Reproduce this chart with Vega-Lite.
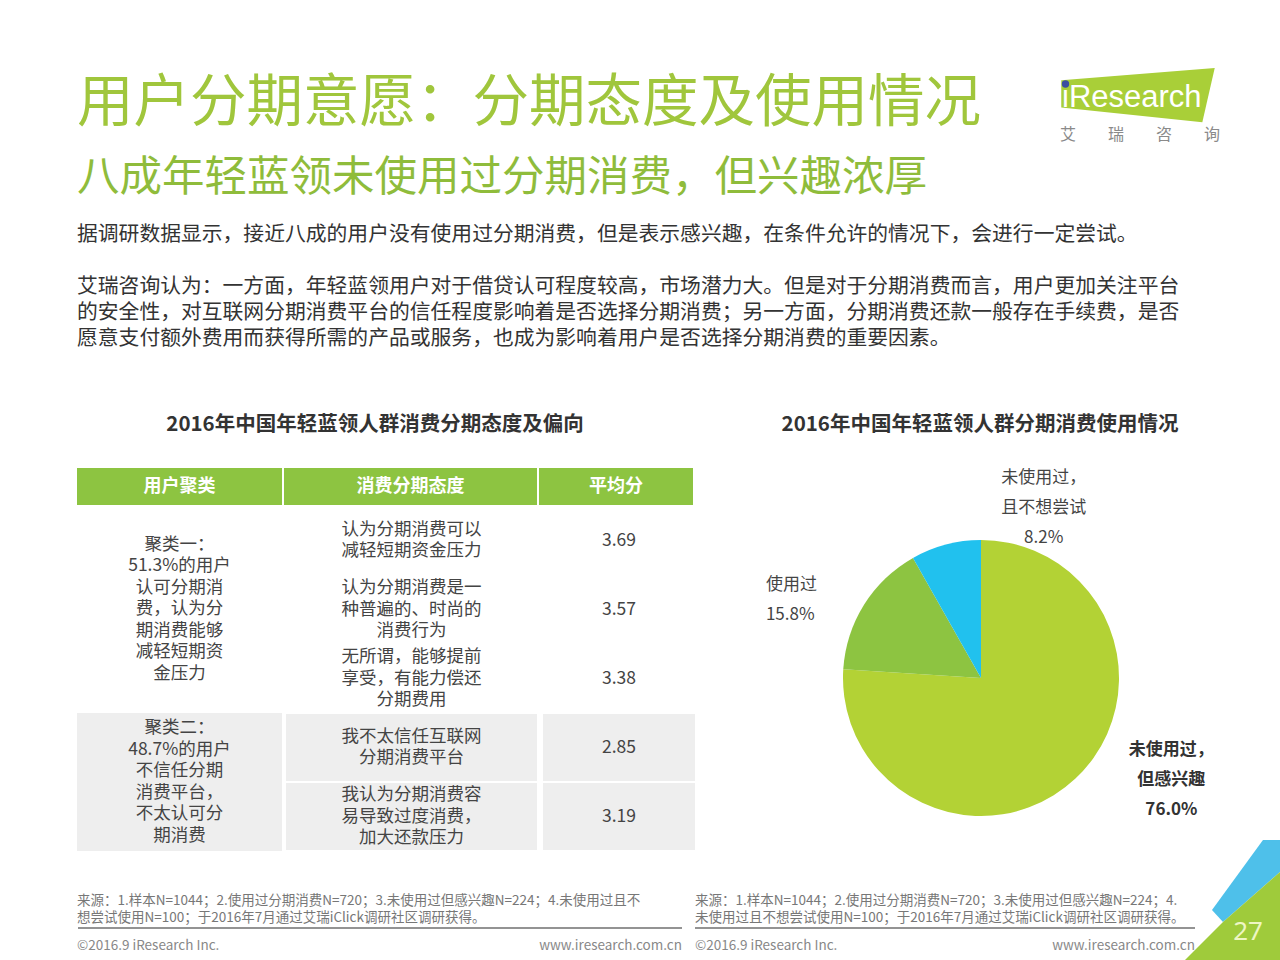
{
  "$schema": "https://vega.github.io/schema/vega-lite/v6.json",
  "background": "white",
  "padding": {"left": 77, "top": 0, "right": 0, "bottom": 0},
  "config": {"font": "Noto Sans CJK SC", "view": {"stroke": null}},
  "datasets": {
    "header": [
      {"kind": "title", "line": 0, "text": "用户分期意愿：分期态度及使用情况"},
      {"kind": "subtitle", "line": 3, "text": "八成年轻蓝领未使用过分期消费，但兴趣浓厚"},
      {"kind": "body", "line": 5, "text": "据调研数据显示，接近八成的用户没有使用过分期消费，但是表示感兴趣，在条件允许的情况下，会进行一定尝试。"},
      {"kind": "body", "line": 7, "text": "艾瑞咨询认为：一方面，年轻蓝领用户对于借贷认可程度较高，市场潜力大。但是对于分期消费而言，用户更加关注平台"},
      {"kind": "body", "line": 8, "text": "的安全性，对互联网分期消费平台的信任程度影响着是否选择分期消费；另一方面，分期消费还款一般存在手续费，是否"},
      {"kind": "body", "line": 9, "text": "愿意支付额外费用而获得所需的产品或服务，也成为影响着用户是否选择分期消费的重要因素。"},
      {"kind": "tabletitle", "line": 12, "text": "2016年中国年轻蓝领人群消费分期态度及偏向"},
      {"kind": "pietitle", "line": 12, "text": "2016年中国年轻蓝领人群分期消费使用情况"}
    ],
    "cols": [{"col": "用户聚类"}, {"col": "消费分期态度"}, {"col": "平均分"}],
    "table": [
      {"row": 1, "cluster": "聚类一", "attitude": "认为分期消费可以\n减轻短期资金压力", "score": 3.69},
      {"row": 2, "cluster": "聚类一", "attitude": "认为分期消费是一\n种普遍的、时尚的\n消费行为", "score": 3.57},
      {"row": 3, "cluster": "聚类一", "attitude": "无所谓，能够提前\n享受，有能力偿还\n分期费用", "score": 3.38},
      {"row": 4, "cluster": "聚类二", "attitude": "我不太信任互联网\n分期消费平台", "score": 2.85},
      {"row": 5, "cluster": "聚类二", "attitude": "我认为分期消费容\n易导致过度消费，\n加大还款压力", "score": 3.19}
    ],
    "clusters": [
      {"cluster": "聚类一", "desc": "聚类一：\n51.3%的用户\n认可分期消\n费，认为分\n期消费能够\n减轻短期资\n金压力"},
      {"cluster": "聚类二", "desc": "聚类二：\n48.7%的用户\n不信任分期\n消费平台，\n不太认可分\n期消费"}
    ],
    "pie": [
      {"cat": "未使用过，但感兴趣", "pct": 76.0, "label": "未使用过，\n但感兴趣\n76.0%"},
      {"cat": "使用过", "pct": 15.8, "label": "使用过\n15.8%"},
      {"cat": "未使用过，且不想尝试", "pct": 8.2, "label": "未使用过，\n且不想尝试\n8.2%"}
    ],
    "foot": [{"c": "©2016.9 iResearch Inc.", "u": "www.iresearch.com.cn"}]
  },
  "spacing": 0,
  "bounds": "flush",
  "resolve": {"scale": {"color": "independent"}},
  "vconcat": [
    {
      "width": 1203,
      "height": 468,
      "layer": [
        {"data": {"values": [{"part": "logo"}]}, "mark": {"type": "point", "shape": "M-0.99,-0.19L0.99,-0.35L0.83,0.35L-0.99,0.16Z", "filled": true, "opacity": 1, "color": "#a9cf38", "size": 24025, "strokeWidth": 0}, "encoding": {"x": {"value": 1061}, "y": {"value": 95}}},
        {"data": {"values": [{"t": "iResearch"}]}, "mark": {"type": "text", "align": "left", "baseline": "alphabetic", "font": "Liberation Sans", "fontSize": 31, "color": "white"}, "encoding": {"x": {"value": 985}, "y": {"value": 107}, "text": {"field": "t"}}},
        {"data": {"values": [{"part": "dot"}]}, "mark": {"type": "point", "shape": "circle", "filled": true, "opacity": 1, "color": "#3b4fa0", "size": 55, "strokeWidth": 0}, "encoding": {"x": {"value": 988.5}, "y": {"value": 84}}},
        {"data": {"values": [{"t": "艾　　瑞　　咨　　询"}]}, "mark": {"type": "text", "align": "left", "baseline": "middle", "fontSize": 16, "color": "#8a8a8a"}, "encoding": {"x": {"value": 983}, "y": {"value": 135}, "text": {"field": "t"}}},
        {"data": {"values": [{"part": "sep-left"}]}, "mark": {"type": "rule", "color": "#6f6f6f", "strokeWidth": 1.5, "opacity": 1}, "encoding": {"x": {"value": 1}, "x2": {"value": 605}, "y": {"value": 928}, "y2": {"value": 928}}},
        {"data": {"values": [{"part": "sep-right"}]}, "mark": {"type": "rule", "color": "#6f6f6f", "strokeWidth": 1.5, "opacity": 1}, "encoding": {"x": {"value": 618}, "x2": {"value": 1118}, "y": {"value": 928}, "y2": {"value": 928}}},
        {"data": {"values": [{"part": "corner-blue"}]}, "mark": {"type": "point", "shape": "M-0.467,0.167L0.383,-1L0.667,-1L0.667,-0.467L-0.283,0.367Z", "filled": true, "opacity": 1, "color": "#4ec0ea", "size": 14400, "strokeWidth": 0}, "encoding": {"x": {"value": 1163}, "y": {"value": 900}}},
        {"data": {"values": [{"part": "corner-green"}]}, "mark": {"type": "point", "shape": "M-0.283,0.367L0.667,-0.467L0.667,1L-0.917,1Z", "filled": true, "opacity": 1, "color": "#9fcb3b", "size": 14400, "strokeWidth": 0}, "encoding": {"x": {"value": 1163}, "y": {"value": 900}}},
        {"data": {"values": [{"t": "27"}]}, "mark": {"type": "text", "align": "center", "baseline": "middle", "font": "Noto Sans", "fontSize": 26, "color": "#eef6c4"}, "encoding": {"x": {"value": 1171}, "y": {"value": 932}, "text": {"field": "t"}}},
        {"data": {"name": "header"}, "transform": [{"filter": "datum.kind === 'title'"}], "mark": {"type": "text", "align": "left", "baseline": "middle", "fontSize": 56.5, "color": "#a0c63c"}, "encoding": {"x": {"value": 0}, "y": {"field": "line", "type": "quantitative", "scale": {"domain": [-4, 14], "reverse": true, "nice": false, "zero": false}, "axis": null}, "text": {"field": "text"}}},
        {"data": {"name": "header"}, "transform": [{"filter": "datum.kind === 'subtitle'"}], "mark": {"type": "text", "align": "left", "baseline": "middle", "fontSize": 42.5, "color": "#8fbc3b", "dy": -4}, "encoding": {"x": {"value": 0}, "y": {"field": "line", "type": "quantitative"}, "text": {"field": "text"}}},
        {"data": {"name": "header"}, "transform": [{"filter": "datum.kind === 'body'"}], "mark": {"type": "text", "align": "left", "baseline": "middle", "fontSize": 20.8, "color": "#333333", "dy": 1}, "encoding": {"x": {"value": 0}, "y": {"field": "line", "type": "quantitative"}, "text": {"field": "text"}}},
        {"data": {"name": "header"}, "transform": [{"filter": "datum.kind === 'tabletitle'"}], "mark": {"type": "text", "align": "center", "baseline": "middle", "fontSize": 20.5, "fontWeight": "bold", "color": "#333333", "dy": 9}, "encoding": {"x": {"value": 298}, "y": {"field": "line", "type": "quantitative"}, "text": {"field": "text"}}},
        {"data": {"name": "header"}, "transform": [{"filter": "datum.kind === 'pietitle'"}], "mark": {"type": "text", "align": "center", "baseline": "middle", "fontSize": 20.5, "fontWeight": "bold", "color": "#333333", "dy": 9}, "encoding": {"x": {"value": 903}, "y": {"field": "line", "type": "quantitative"}, "text": {"field": "text"}}}
      ]
    },
    {
      "spacing": 41,
      "vconcat": [
        {
          "spacing": 3,
          "hconcat": [
            {
              "spacing": 0,
              "vconcat": [
                {
                  "spacing": 2,
                  "hconcat": [
                    {"width": 205, "height": 37, "data": {"name": "cols"}, "transform": [{"filter": "datum.col === '用户聚类'"}], "layer": [
                      {"mark": {"type": "rect", "color": "#8dc441"}, "encoding": {"x": {"value": 0}, "x2": {"value": "width"}, "y": {"value": 0}, "y2": {"value": "height"}}},
                      {"mark": {"type": "text", "color": "white", "fontSize": 18, "fontWeight": "bold", "baseline": "middle"}, "encoding": {"text": {"field": "col"}}}
                    ]},
                    {"width": 253, "height": 37, "data": {"name": "cols"}, "transform": [{"filter": "datum.col === '消费分期态度'"}], "layer": [
                      {"mark": {"type": "rect", "color": "#8dc441"}, "encoding": {"x": {"value": 0}, "x2": {"value": "width"}, "y": {"value": 0}, "y2": {"value": "height"}}},
                      {"mark": {"type": "text", "color": "white", "fontSize": 18, "fontWeight": "bold", "baseline": "middle"}, "encoding": {"text": {"field": "col"}}}
                    ]},
                    {"width": 154, "height": 37, "data": {"name": "cols"}, "transform": [{"filter": "datum.col === '平均分'"}], "layer": [
                      {"mark": {"type": "rect", "color": "#8dc441"}, "encoding": {"x": {"value": 0}, "x2": {"value": "width"}, "y": {"value": 0}, "y2": {"value": "height"}}},
                      {"mark": {"type": "text", "color": "white", "fontSize": 18, "fontWeight": "bold", "baseline": "middle"}, "encoding": {"text": {"field": "col"}}}
                    ]}
                  ]
                },
                {
                  "spacing": 2,
                  "hconcat": [
                    {
                      "width": 205, "height": 345,
                      "layer": [
                        {"data": {"name": "table"}, "mark": {"type": "rect"}, "encoding": {"y": {"field": "row", "type": "ordinal", "scale": {"paddingInner": 0, "paddingOuter": 0}, "axis": null}, "x": {"value": 0}, "x2": {"value": "width"}, "color": {"condition": {"test": "datum.cluster === '聚类二'", "value": "#eeeeee"}, "value": "#ffffff"}}},
                        {"data": {"name": "clusters"}, "transform": [{"filter": "datum.cluster === '聚类一'"}], "mark": {"type": "text", "fontSize": 17.5, "lineHeight": 21.5, "lineBreak": "\n", "color": "#444444", "baseline": "middle", "dy": -47.5}, "encoding": {"y": {"field": "cluster", "type": "nominal", "scale": {"domain": ["聚类一", "聚类二"]}, "axis": null}, "text": {"field": "desc"}}},
                        {"data": {"name": "clusters"}, "transform": [{"filter": "datum.cluster === '聚类二'"}], "mark": {"type": "text", "fontSize": 17.5, "lineHeight": 21.5, "lineBreak": "\n", "color": "#444444", "baseline": "middle", "dy": -36.75}, "encoding": {"y": {"field": "cluster", "type": "nominal", "scale": {"domain": ["聚类一", "聚类二"]}, "axis": null}, "text": {"field": "desc"}}}
                      ],
                      "resolve": {"scale": {"y": "independent"}}
                    },
                    {
                      "width": 253, "height": 345,
                      "data": {"name": "table"},
                      "layer": [
                        {"mark": {"type": "rect", "stroke": "white", "strokeWidth": 2}, "encoding": {"y": {"field": "row", "type": "ordinal", "scale": {"paddingInner": 0, "paddingOuter": 0}, "axis": null}, "x": {"value": 0}, "x2": {"value": "width"}, "color": {"condition": {"test": "datum.cluster === '聚类二'", "value": "#eeeeee"}, "value": "#ffffff"}}},
                        {"transform": [{"filter": "split(datum.attitude, '\\n').length === 2"}], "mark": {"type": "text", "fontSize": 17.5, "lineHeight": 21.5, "lineBreak": "\n", "color": "#444444", "baseline": "middle", "dy": -10.75}, "encoding": {"y": {"field": "row", "type": "ordinal", "axis": null}, "text": {"field": "attitude"}}},
                        {"transform": [{"filter": "split(datum.attitude, '\\n').length === 3"}], "mark": {"type": "text", "fontSize": 17.5, "lineHeight": 21.5, "lineBreak": "\n", "color": "#444444", "baseline": "middle", "dy": -21.5}, "encoding": {"y": {"field": "row", "type": "ordinal", "axis": null}, "text": {"field": "attitude"}}}
                      ]
                    },
                    {
                      "width": 154, "height": 345,
                      "data": {"name": "table"},
                      "layer": [
                        {"mark": {"type": "rect", "stroke": "white", "strokeWidth": 2}, "encoding": {"y": {"field": "row", "type": "ordinal", "scale": {"paddingInner": 0, "paddingOuter": 0}, "axis": null}, "x": {"value": 0}, "x2": {"value": "width"}, "color": {"condition": {"test": "datum.cluster === '聚类二'", "value": "#eeeeee"}, "value": "#ffffff"}}},
                        {"mark": {"type": "text", "fontSize": 17.5, "color": "#444444", "baseline": "middle"}, "encoding": {"y": {"field": "row", "type": "ordinal", "axis": null}, "text": {"field": "score", "type": "quantitative", "format": ".2f"}}}
                      ]
                    }
                  ]
                }
              ]
            },
            {
              "width": 562, "height": 382,
              "data": {"name": "pie"},
              "encoding": {
                "theta": {"field": "pct", "type": "quantitative", "stack": true},
                "order": {"field": "pct", "type": "quantitative", "sort": "descending"}
              },
              "layer": [
                {"mark": {"type": "arc", "outerRadius": 138, "yOffset": 19}, "encoding": {"color": {"field": "cat", "type": "nominal", "scale": {"domain": ["未使用过，但感兴趣", "使用过", "未使用过，且不想尝试"], "range": ["#b3d235", "#8dc441", "#21c1ee"]}, "legend": null}}},
                {"mark": {"type": "text", "radius": 170, "yOffset": 19, "dx": 106, "dy": -36, "align": "center", "baseline": "middle", "fontSize": 17, "lineHeight": 30, "lineBreak": "\n", "color": "#444444"}, "encoding": {"text": {"condition": {"test": "datum.cat === '未使用过，且不想尝试'", "field": "label"}, "value": ""}}},
                {"mark": {"type": "text", "radius": 170, "yOffset": 19, "dx": -71, "dy": -3, "align": "left", "baseline": "middle", "fontSize": 17, "lineHeight": 30, "lineBreak": "\n", "color": "#444444"}, "encoding": {"text": {"condition": {"test": "datum.cat === '使用过'", "field": "label"}, "value": ""}}},
                {"mark": {"type": "text", "radius": 170, "yOffset": 19, "dx": 74, "dy": -52, "align": "center", "baseline": "middle", "fontSize": 17, "fontWeight": "bold", "lineHeight": 30, "lineBreak": "\n", "color": "#333333"}, "encoding": {"text": {"condition": {"test": "datum.cat === '未使用过，但感兴趣'", "field": "label"}, "value": ""}}}
              ]
            }
          ]
        },
        {
          "spacing": 13,
          "hconcat": [
            {
              "width": 605, "height": 32,
              "title": {"text": ["来源：1.样本N=1044；2.使用过分期消费N=720；3.未使用过但感兴趣N=224；4.未使用过且不", "想尝试使用N=100；于2016年7月通过艾瑞iClick调研社区调研获得。"], "anchor": "start", "fontSize": 13.5, "fontWeight": "normal", "color": "#777777", "lineHeight": 17, "offset": 6},
              "data": {"name": "foot"},
              "layer": [
                {"mark": {"type": "text", "align": "left", "baseline": "middle", "fontSize": 13.5, "color": "#888888"}, "encoding": {"x": {"datum": 0, "type": "quantitative", "scale": {"domain": [0, 1], "nice": false, "zero": false}, "axis": null}, "text": {"field": "c"}}},
                {"mark": {"type": "text", "align": "right", "baseline": "middle", "fontSize": 13.5, "color": "#888888"}, "encoding": {"x": {"datum": 1, "type": "quantitative"}, "text": {"field": "u"}}}
              ]
            },
            {
              "width": 500, "height": 32,
              "title": {"text": ["来源：1.样本N=1044；2.使用过分期消费N=720；3.未使用过但感兴趣N=224；4.", "未使用过且不想尝试使用N=100；于2016年7月通过艾瑞iClick调研社区调研获得。"], "anchor": "start", "fontSize": 13.5, "fontWeight": "normal", "color": "#777777", "lineHeight": 17, "offset": 6},
              "data": {"name": "foot"},
              "layer": [
                {"mark": {"type": "text", "align": "left", "baseline": "middle", "fontSize": 13.5, "color": "#888888"}, "encoding": {"x": {"datum": 0, "type": "quantitative", "scale": {"domain": [0, 1], "nice": false, "zero": false}, "axis": null}, "text": {"field": "c"}}},
                {"mark": {"type": "text", "align": "right", "baseline": "middle", "fontSize": 13.5, "color": "#888888"}, "encoding": {"x": {"datum": 1, "type": "quantitative"}, "text": {"field": "u"}}}
              ]
            }
          ]
        }
      ]
    }
  ]
}
